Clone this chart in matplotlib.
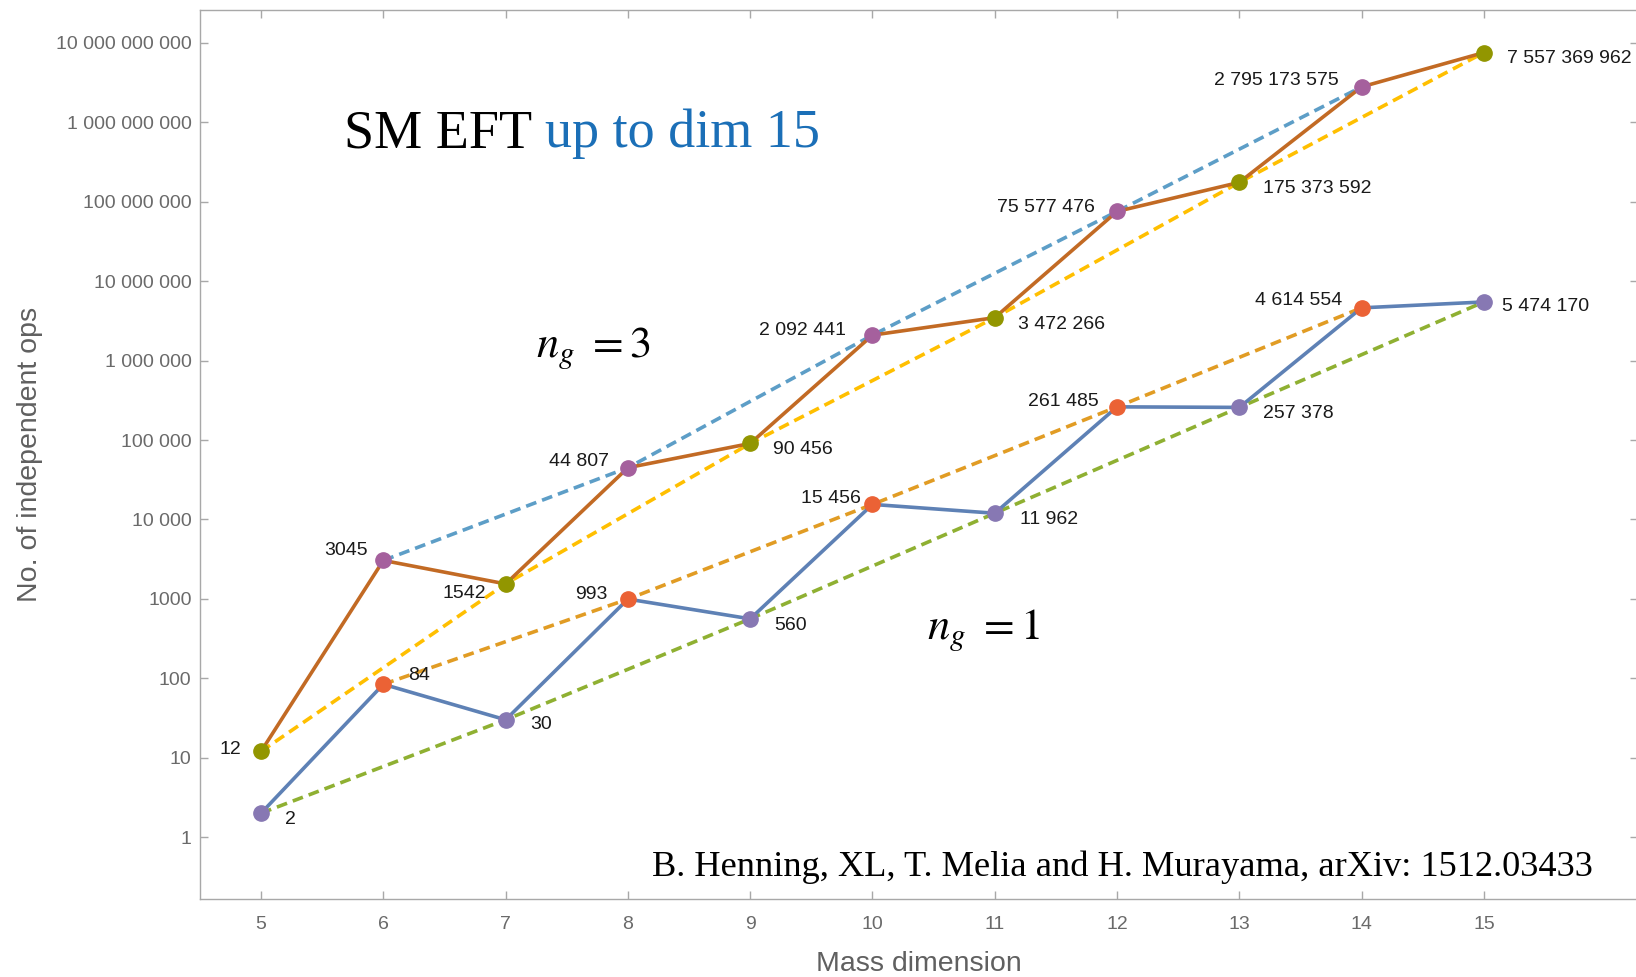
import matplotlib
matplotlib.use("Agg")
import matplotlib.pyplot as plt
from matplotlib.ticker import FixedLocator, NullLocator, FixedFormatter

# mass dimension and number of independent operators
dims = [5, 6, 7, 8, 9, 10, 11, 12, 13, 14, 15]
ops_ng3 = [12, 3045, 1542, 44807, 90456, 2092441, 3472266, 75577476,
           175373592, 2795173575, 7557369962]
ops_ng1 = [2, 84, 30, 993, 560, 15456, 11962, 261485, 257378, 4614554, 5474170]
y_ticks = [10 ** k for k in range(11)]

# label offsets in pixels (dx, dy) for each point
off_ng3 = [(-20, 2), (-15, 10), (-20, -10), (-19, 6), (23, -6), (-26, 5),
           (23, -7), (-22, 4), (24, -6), (-23, 6), (23, -6)]
off_ng1 = [(24, -6), (25, 9), (25, -5), (-20, 5), (24, -7), (-12, 6),
           (25, -6), (-18, 5), (24, -6), (-19, 7), (18, -5)]


def fmt(v):
    v = int(v)
    if v < 10000:
        return str(v)
    return f"{v:,}".replace(",", " ")


plt.rcParams['font.family'] = ['Liberation Sans', 'DejaVu Sans']
plt.rcParams['mathtext.fontset'] = 'stix'

fig = plt.figure(figsize=(16.36, 9.77), dpi=100)
ax = fig.add_axes([0.1222, 0.0798, 0.879, 0.91])
ax.set_yscale('log')
ax.set_xlim(4.5, 16.26)
ax.set_ylim(10 ** -0.78, 10 ** 10.415)

lw = 2.6
dash = (3, 1.7)
# dashed guides: even / odd dimensions
ax.plot(dims[1::2], ops_ng3[1::2], color='#5D9EC7', lw=lw, dashes=dash, zorder=2)
ax.plot(dims[0::2], ops_ng3[0::2], color='#FFBF00', lw=lw, dashes=dash, zorder=2)
ax.plot(dims[1::2], ops_ng1[1::2], color='#E19C24', lw=lw, dashes=dash, zorder=2)
ax.plot(dims[0::2], ops_ng1[0::2], color='#8FB032', lw=lw, dashes=dash, zorder=2)

# solid lines
ax.plot(dims, ops_ng3, color='#C26A24', lw=lw, zorder=3)
ax.plot(dims, ops_ng1, color='#5E81B5', lw=lw, zorder=3)

# markers
ms = 11
ax.plot(dims[0::2], ops_ng3[0::2], 'o', ms=ms, color='#929600', zorder=4)
ax.plot(dims[1::2], ops_ng3[1::2], 'o', ms=ms, color='#A5609D', zorder=4)
ax.plot(dims[0::2], ops_ng1[0::2], 'o', ms=ms, color='#8778B3', zorder=4)
ax.plot(dims[1::2], ops_ng1[1::2], 'o', ms=ms, color='#EB6235', zorder=4)

for vals, offs in [(ops_ng3, off_ng3), (ops_ng1, off_ng1)]:
    for d, v, (dx, dy) in zip(dims, vals, offs):
        ax.annotate(fmt(v), (d, v), xytext=(dx, dy), textcoords='offset pixels',
                    ha='right' if dx < 0 else 'left', va='center',
                    fontsize=14, color='#1a1a1a', annotation_clip=False, zorder=5)

# axes styling
ax.xaxis.set_major_locator(FixedLocator(dims))
ax.xaxis.set_minor_locator(NullLocator())
ax.yaxis.set_major_locator(FixedLocator(y_ticks))
ax.yaxis.set_major_formatter(FixedFormatter([fmt(t) for t in y_ticks]))
ax.yaxis.set_minor_locator(NullLocator())
for s in ax.spines.values():
    s.set_color('#a8a8a8')
    s.set_linewidth(1.0)
ax.tick_params(which='major', direction='in', length=6, width=1,
               color='#a8a8a8', labelcolor='#6a6a6a', labelsize=14,
               top=True, right=True)
ax.tick_params(axis='x', pad=12)
ax.tick_params(axis='y', pad=6)

ax.set_xlabel('Mass dimension', fontsize=20.5, color='#606060', labelpad=13)
ax.set_ylabel('No. of independent ops', fontsize=20.5, color='#606060', labelpad=9)

# annotations
t1 = fig.text(344 / 1636, 1 - 147 / 977, 'SM EFT ', fontsize=39,
              family='Liberation Serif', color='black', va='baseline')
fig.canvas.draw()
bb = t1.get_window_extent()
fig.text(bb.x1 / fig.bbox.width, 1 - 147 / 977, 'up to dim 15', fontsize=39,
         family='Liberation Serif', color='#1b6fb7', va='baseline')

fig.text(536 / 1636, 1 - 348 / 977, r'$n_g\ = 3$', fontsize=32,
         color='black', va='center', ha='left')
fig.text(927 / 1636, 1 - 630 / 977, r'$n_g\ = 1$', fontsize=32,
         color='black', va='center', ha='left')

fig.text(1593 / 1636, 1 - 876 / 977,
         'B. Henning, XL, T. Melia and H. Murayama, arXiv: 1512.03433',
         fontsize=26.2, family='Liberation Serif', color='black',
         va='baseline', ha='right')

fig.savefig('out.png', dpi=100)
